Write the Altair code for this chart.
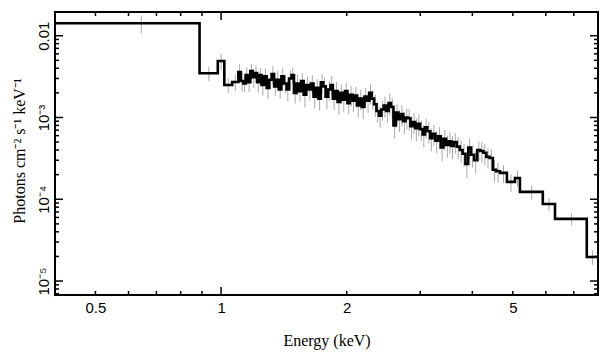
import altair as alt
import pandas as pd

# ---- spectrum bins: lower edges (keV) and flux (photons cm^-2 s^-1 keV^-1)
edges_low = [0.40, 0.888, 0.982, 1.018, 1.063]
flux_low = [1.42e-2, 3.47e-3, 4.91e-3, 2.50e-3, 2.72e-3]

edges_mid = [1.100, 1.115, 1.130, 1.145, 1.160, 1.175, 1.190, 1.205, 1.220, 1.235,
             1.250, 1.268, 1.286, 1.304, 1.322, 1.340, 1.358, 1.376, 1.395, 1.415,
             1.435, 1.455, 1.475, 1.495, 1.515, 1.535, 1.555, 1.577, 1.599, 1.621,
             1.643, 1.665, 1.688, 1.711, 1.734, 1.757, 1.781, 1.805, 1.829, 1.853,
             1.878, 1.903, 1.929, 1.955, 1.981, 2.008, 2.035, 2.062, 2.090, 2.118,
             2.146, 2.175, 2.205, 2.235, 2.265, 2.295, 2.326, 2.357, 2.389, 2.421,
             2.453, 2.486, 2.520, 2.554, 2.588, 2.623, 2.658, 2.694, 2.730, 2.767,
             2.804, 2.842, 2.880, 2.918, 2.957]
flux_mid_e3 = [3.6, 2.8, 2.6, 3.3, 2.7, 3.7, 3.1, 3.5, 2.7, 3.3,
               2.5, 3.2, 2.3, 2.9, 3.4, 2.4, 2.9, 2.2, 3.2, 2.6,
               2.2, 3.0, 3.3, 2.0, 2.6, 2.1, 2.8, 1.9, 2.5, 2.2,
               2.6, 1.8, 2.3, 1.7, 2.7, 2.4, 1.8, 2.2, 2.5, 1.7,
               2.1, 1.55, 2.0, 1.65, 2.1, 1.5, 1.9, 1.6, 1.85, 1.4,
               1.7, 1.35, 1.8, 1.6, 2.0, 1.7, 1.45, 1.2, 1.05, 1.25,
               1.4, 1.2, 1.5, 1.35, 0.8, 1.15, 0.95, 1.1, 0.9, 1.0,
               0.98, 0.78, 0.88, 0.74, 0.84]

edges_hi = [2.997, 3.04, 3.08, 3.12, 3.17, 3.21, 3.26, 3.31, 3.36, 3.41,
            3.46, 3.51, 3.56, 3.61, 3.67, 3.73, 3.79, 3.85, 3.91, 3.97,
            4.04, 4.11, 4.18, 4.25, 4.32, 4.40, 4.48, 4.56]
flux_hi_e4 = [7.2, 6.2, 7.6, 6.8, 5.6, 6.3, 5.2, 5.9, 4.3, 5.5,
              4.6, 5.1, 4.5, 5.0, 4.4, 4.0, 3.6, 2.7, 4.3, 3.5,
              3.0, 4.0, 3.9, 3.7, 3.3, 3.2, 2.3, 2.2]

edges_tail = [4.66, 4.84, 5.06, 5.20, 5.90, 6.31, 7.52]
flux_tail = [2.10e-4, 1.63e-4, 1.82e-4, 1.23e-4, 8.77e-5, 5.75e-5, 1.97e-5]
edge_end = 8.0

# relative 1-sigma errors (grey bars)
err_low = [0.25, 0.2, 0.22, 0.2, 0.22]
err_mid = [0.24, 0.26, 0.22, 0.25, 0.24, 0.22, 0.26, 0.23, 0.25, 0.22,
           0.26, 0.24, 0.27, 0.22, 0.25, 0.24, 0.27, 0.23, 0.26, 0.24,
           0.28, 0.25, 0.23, 0.26, 0.28, 0.25, 0.24, 0.3, 0.26, 0.27,
           0.26, 0.28, 0.27, 0.29, 0.27, 0.28, 0.3, 0.27, 0.28, 0.28,
           0.29, 0.3, 0.27, 0.29, 0.27, 0.27, 0.28, 0.27, 0.28, 0.29,
           0.28, 0.3, 0.27, 0.29, 0.28, 0.27, 0.3, 0.28, 0.29, 0.27,
           0.29, 0.28, 0.3, 0.27, 0.31, 0.28, 0.3, 0.29, 0.3, 0.28,
           0.3, 0.31, 0.29, 0.31, 0.3]
err_hi = [0.28, 0.3, 0.27, 0.29, 0.31, 0.28, 0.3, 0.29, 0.32, 0.28,
          0.3, 0.29, 0.31, 0.28, 0.3, 0.3, 0.31, 0.33, 0.28, 0.3,
          0.31, 0.27, 0.28, 0.29, 0.28, 0.29, 0.3, 0.27]
err_tail = [0.25, 0.24, 0.22, 0.2, 0.18, 0.17, 0.2]

x_label_vals = [0.5, 1, 2, 5]
x_major = [1]
x_minor = [0.5, 0.6, 0.7, 0.8, 0.9, 2, 3, 4, 5, 6, 7]
y_label_vals = [1e-5, 1e-4, 1e-3, 1e-2]
y_minor = [m * 10.0 ** p for p in (-6, -5, -4, -3, -2) for m in range(2, 10)]

X_DOM = [0.4, 8.0]
Y_DOM = [6.75e-6, 0.0195]
W, H = 543, 283

y_minor = [v for v in y_minor if Y_DOM[0] < v < Y_DOM[1]]

edges = edges_low + edges_mid + edges_hi + edges_tail + [edge_end]
flux = (flux_low + [v * 1e-3 for v in flux_mid_e3] + [v * 1e-4 for v in flux_hi_e4]
        + flux_tail)
rel_err = err_low + err_mid + err_hi + err_tail

step_df = pd.DataFrame({"e": edges, "f": flux + [flux[-1]]})
err_df = pd.DataFrame({
    "c": [(edges[i] + edges[i + 1]) / 2 for i in range(len(flux))],
    "lo": [f * (1 - e) for f, e in zip(flux, rel_err)],
    "hi": [f * (1 + e) for f, e in zip(flux, rel_err)],
})

xs = alt.Scale(type="log", domain=X_DOM, nice=False)
ys = alt.Scale(type="log", domain=Y_DOM, nice=False)

ylabel_expr = ("datum.value < 5e-5 ? '10⁻⁵' : datum.value < 5e-4 ? '10⁻⁴' : "
               "datum.value < 5e-3 ? '10⁻³' : '0.01'")

X_AXIS = alt.Axis(values=x_label_vals, ticks=False, domain=False, grid=False,
                  labelFont="Liberation Sans", labelFontSize=15, labelColor="black",
                  labelPadding=5, labelFlush=False, labelOverlap=False,
                  format="~g",
                  title="Energy (keV)", titleFont="Liberation Serif",
                  titleFontSize=16, titleFontWeight="normal", titleColor="black",
                  titleY=50, titleBaseline="alphabetic")
Y_AXIS = alt.Axis(values=y_label_vals, ticks=False, domain=False, grid=False,
                  labelExpr=ylabel_expr, labelAngle=270, labelAlign="center",
                  labelBaseline="alphabetic", labelPadding=7,
                  labelFont="Liberation Sans", labelFontSize=15, labelColor="black",
                  labelFlush=False, labelOverlap=False,
                  title="Photons cm⁻² s⁻¹ keV⁻¹", titleFont="Liberation Serif",
                  titleFontSize=16, titleFontWeight="normal", titleColor="black",
                  titleAngle=270, titleX=-31, titleY=H / 2 - 3, titleAlign="center",
                  titleBaseline="alphabetic")

errs = alt.Chart(err_df).mark_rule(color="#a8a8a8", strokeWidth=1).encode(
    x=alt.X("c:Q", scale=xs, axis=X_AXIS),
    y=alt.Y("lo:Q", scale=ys, axis=Y_AXIS),
    y2="hi:Q",
)

step = alt.Chart(step_df).mark_line(color="black", strokeWidth=2.6,
                                    interpolate="step-after", clip=True).encode(
    x=alt.X("e:Q", scale=xs, axis=X_AXIS),
    y=alt.Y("f:Q", scale=ys, axis=Y_AXIS),
)


def xticks(vals, length):
    d = pd.DataFrame({"v": vals})
    base = alt.Chart(d).mark_rule(color="black", strokeWidth=1.5)
    bot = base.encode(x=alt.X("v:Q", scale=xs, axis=X_AXIS),
                      y=alt.value(H), y2=alt.value(H - length))
    top = base.encode(x=alt.X("v:Q", scale=xs, axis=X_AXIS),
                      y=alt.value(0), y2=alt.value(length))
    return [bot, top]


def yticks(vals, length):
    d = pd.DataFrame({"v": vals})
    base = alt.Chart(d).mark_rule(color="black", strokeWidth=1.5)
    left = base.encode(y=alt.Y("v:Q", scale=ys, axis=Y_AXIS),
                       x=alt.value(0), x2=alt.value(length))
    right = base.encode(y=alt.Y("v:Q", scale=ys, axis=Y_AXIS),
                        x=alt.value(W), x2=alt.value(W - length))
    return [left, right]


layers = [errs, step] + xticks(x_minor, 4) + xticks(x_major, 8) \
    + yticks(y_minor, 4) + yticks(y_label_vals, 8)

chart = alt.layer(*layers).properties(
    width=W, height=H,
    autosize=alt.AutoSizeParams(type="none"),
    padding={"left": 55, "top": 12, "right": 11, "bottom": 62},
    background="white",
).configure_view(stroke="black", strokeWidth=2)

chart.save("out.html", embed_options={"renderer": "svg", "actions": False})
